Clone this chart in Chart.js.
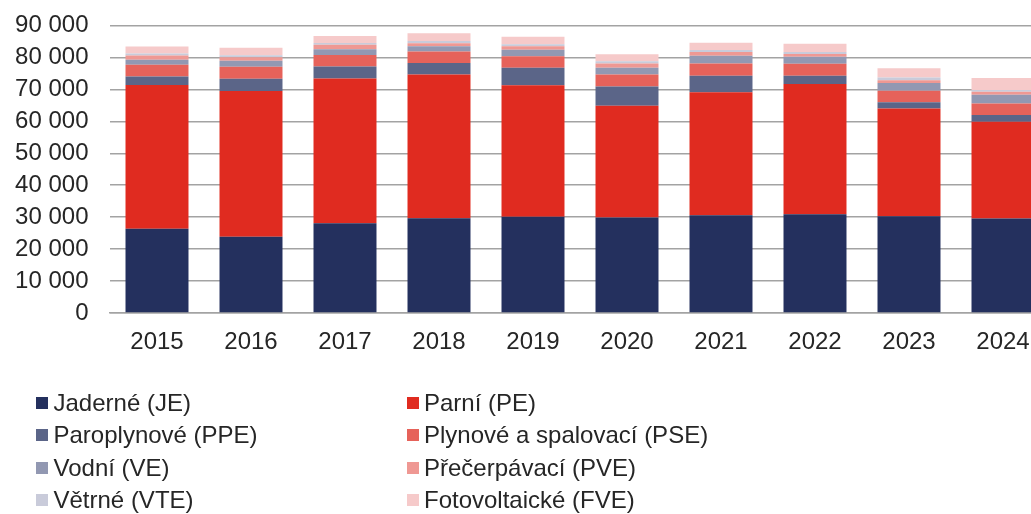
<!DOCTYPE html>
<html>
<head>
<meta charset="utf-8">
<script src="https://cdn.jsdelivr.net/npm/chart.js@4.4.1/dist/chart.umd.min.js"></script>
<style>
  html, body { margin: 0; padding: 0; background: #fff; overflow: hidden; width: 1031px; height: 514px; }
  #wrap { position: absolute; left: 0; top: 0; width: 1050px; height: 375px; }
  #legend { position: absolute; left: 0; top: 0; width: 1031px; height: 514px; font-family: "Liberation Sans", Arial, sans-serif; font-size: 24px; color: #262626; }
  .sw { position: absolute; width: 12px; height: 12px; }
  .tx { position: absolute; white-space: nowrap; line-height: 28px; height: 28px; }
</style>
</head>
<body>
<div id="wrap"><canvas id="c"></canvas></div>
<div id="legend"></div>
<script>
const categories = ["2015","2016","2017","2018","2019","2020","2021","2022","2023","2024"];
const seriesNames = ["Jaderné (JE)","Parní (PE)","Paroplynové (PPE)","Plynové a spalovací (PSE)","Vodní (VE)","Přečerpávací (PVE)","Větrné (VTE)","Fotovoltaické (FVE)"];
const seriesColors = ["#24305e","#e02b20","#5b6588","#e6625a","#9298b2","#ef9893","#c9cbda","#f6caca"];
const JE  = [26400, 23900, 28100, 29700, 30100, 29900, 30600, 30900, 30300, 29600];
const PE  = [45000, 45600, 45300, 45000, 41200, 35000, 38500, 40800, 33700, 30300];
const PPE = [2600, 3800, 3800, 3600, 5500, 6000, 5200, 2600, 2000, 2100];
const PSE = [3700, 3800, 3600, 3600, 3600, 3800, 3800, 3700, 3600, 3600];
const VE  = [1600, 1900, 1800, 1600, 2000, 2100, 2400, 2200, 2400, 2700];
const PVE = [1300, 1100, 1400, 950, 1100, 1300, 1200, 900, 900, 1000];
const VTE = [600, 600, 500, 700, 600, 700, 600, 600, 800, 500];
const FVE = [2200, 2300, 2200, 2400, 2400, 2200, 2300, 2600, 2900, 3750];
const yTicks = [0, 10000, 20000, 30000, 40000, 50000, 60000, 70000, 80000, 90000];

const seriesValues = [JE, PE, PPE, PSE, VE, PVE, VTE, FVE];
const FONT = "'Liberation Sans', Arial, sans-serif";

const datasets = seriesValues.map((vals, i) => ({
  label: seriesNames[i],
  data: vals,
  backgroundColor: seriesColors[i],
  borderWidth: 0,
  categoryPercentage: 1.0,
  barPercentage: 0.67
}));

function fmt(v) {
  return String(v).replace(/\B(?=(\d{3})+(?!\d))/g, " ");
}

new Chart(document.getElementById("c"), {
  type: "bar",
  data: { labels: categories, datasets },
  options: {
    responsive: true,
    maintainAspectRatio: false,
    animation: false,
    layout: { padding: { left: 0, right: 0, top: 25.5, bottom: 0 } },
    plugins: { legend: { display: false }, tooltip: { enabled: false } },
    scales: {
      x: {
        stacked: true,
        afterFit: (axis) => { axis.height = 375 - 313; axis.paddingLeft = 0; axis.paddingRight = 0; },
        grid: { display: false, drawTicks: false },
        border: { display: true, color: "#a3a3a3", width: 1.5 },
        ticks: { color: "#262626", font: { family: FONT, size: 24 }, padding: 15, maxRotation: 0, autoSkip: false }
      },
      y: {
        stacked: true,
        min: 0, max: 90000,
        afterBuildTicks: (axis) => { axis.ticks = yTicks.map(v => ({ value: v })); },
        afterFit: (axis) => { axis.width = 110; axis.paddingTop = 0; axis.paddingBottom = 0; },
        grid: { color: "#a3a3a3", lineWidth: 1.5, drawTicks: false },
        border: { display: false },
        ticks: { color: "#262626", font: { family: FONT, size: 24 }, padding: 21.5, autoSkip: false, callback: (v) => fmt(v) }
      }
    }
  }
});

// HTML legend, two columns, row-major order
const legend = document.getElementById("legend");
const swX = [36, 407];
const txX = [53.5, 424];
const rowC = [402.5, 435, 467.5, 500];
seriesNames.forEach((name, i) => {
  const c = i % 2, r = Math.floor(i / 2);
  const sw = document.createElement("div");
  sw.className = "sw";
  sw.style.left = swX[c] + "px";
  sw.style.top = (rowC[r] - 6) + "px";
  sw.style.background = seriesColors[i];
  legend.appendChild(sw);
  const tx = document.createElement("div");
  tx.className = "tx";
  tx.style.left = txX[c] + "px";
  tx.style.top = (rowC[r] - 14) + "px";
  tx.textContent = name;
  legend.appendChild(tx);
});
</script>
</body>
</html>
